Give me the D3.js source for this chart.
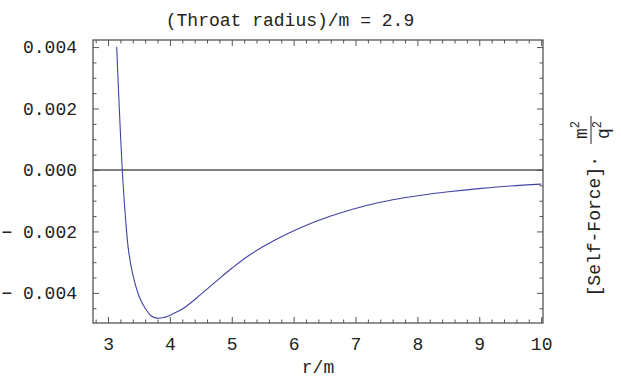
<!DOCTYPE html>
<html>
<head>
<meta charset="utf-8">
<script src="https://cdn.jsdelivr.net/npm/d3@7"></script>
<style>
  html, body { margin: 0; padding: 0; background: #fff; }
  svg { display: block; font-family: "Liberation Mono", "Courier New", monospace; }
</style>
</head>
<body>
<div id="chart"></div>
<script>
// values
const rValues = [3.14, 3.18, 3.23, 3.28, 3.33, 3.4, 3.5, 3.6, 3.7, 3.79, 3.9, 4.05, 4.22, 4.5, 4.76, 5.0, 5.3, 5.7, 6.11, 6.6, 7.19, 7.6, 8.06, 8.5, 9.03, 9.5, 10];
const forceValues = [0.0040, 0.0021, 0.0, -0.0015, -0.0026, -0.0034, -0.0041, -0.0045, -0.00475, -0.00482, -0.0048, -0.00468, -0.0045, -0.00405, -0.0036, -0.0032, -0.00275, -0.00228, -0.00188, -0.0015, -0.00115, -0.00097, -0.00082, -0.00071, -0.0006, -0.00052, -0.00046];

const xTicks = [3, 4, 5, 6, 7, 8, 9, 10];
const xTickLabels = ["3", "4", "5", "6", "7", "8", "9", "10"];
const yTicks = [0.004, 0.002, 0, -0.002, -0.004];
const yTickLabels = ["0.004", "0.002", "0.000", "\u2212 0.002", "\u2212 0.004"];

const titleText = "(Throat radius)/m = 2.9";
const xLabel = "r/m";

const width = 621, height = 377;
const margin = {top: 40, right: 78, bottom: 54, left: 93};
const innerW = width - margin.left - margin.right;
const innerH = height - margin.top - margin.bottom;

const svg = d3.select("#chart").append("svg")
    .attr("width", width)
    .attr("height", height);

const x = d3.scaleLinear().domain([2.757, 10.03]).range([0, innerW]);
const y = d3.scaleLinear().domain([-0.00498, 0.00423]).range([innerH, 0]);

const g = svg.append("g").attr("transform", `translate(${margin.left},${margin.top})`);

const frameColor = "#555";
const xMinor = d3.range(2.8, 10.05, 0.2).filter(v => Math.abs(v - Math.round(v)) > 0.01);
const yMinor = d3.range(-0.0045, 0.00401, 0.0005).filter(v => Math.abs(v / 0.002 - Math.round(v / 0.002)) > 0.01);

function styleAxis(sel) {
    sel.select(".domain").remove();
    sel.selectAll(".tick line").attr("stroke", frameColor);
    sel.selectAll(".tick text")
        .attr("fill", "#222")
        .attr("font-size", 18)
        .attr("font-family", "'Liberation Mono', 'Courier New', monospace");
}

// bottom / top
g.append("g").attr("transform", `translate(0,${innerH})`)
    .call(d3.axisBottom(x).tickValues(xTicks).tickSizeInner(-6).tickSizeOuter(0).tickPadding(14)
        .tickFormat((d, i) => xTickLabels[i]))
    .call(styleAxis);
g.append("g").attr("transform", `translate(0,${innerH})`)
    .call(d3.axisBottom(x).tickValues(xMinor).tickSizeInner(-3.5).tickSizeOuter(0).tickFormat(""))
    .call(styleAxis);
g.append("g")
    .call(d3.axisTop(x).tickValues(xTicks).tickSizeInner(-6).tickSizeOuter(0).tickFormat(""))
    .call(styleAxis);
g.append("g")
    .call(d3.axisTop(x).tickValues(xMinor).tickSizeInner(-3.5).tickSizeOuter(0).tickFormat(""))
    .call(styleAxis);

// left / right
g.append("g")
    .call(d3.axisLeft(y).tickValues(yTicks).tickSizeInner(-6).tickSizeOuter(0).tickPadding(16)
        .tickFormat((d, i) => yTickLabels[i]))
    .call(styleAxis);
g.append("g")
    .call(d3.axisLeft(y).tickValues(yMinor).tickSizeInner(-3.5).tickSizeOuter(0).tickFormat(""))
    .call(styleAxis);
g.append("g").attr("transform", `translate(${innerW},0)`)
    .call(d3.axisRight(y).tickValues(yTicks).tickSizeInner(-6).tickSizeOuter(0).tickFormat(""))
    .call(styleAxis);
g.append("g").attr("transform", `translate(${innerW},0)`)
    .call(d3.axisRight(y).tickValues(yMinor).tickSizeInner(-3.5).tickSizeOuter(0).tickFormat(""))
    .call(styleAxis);

// zero line
g.append("line")
    .attr("x1", 0).attr("x2", innerW)
    .attr("y1", y(0)).attr("y2", y(0))
    .attr("stroke", frameColor).attr("stroke-width", 1.3);

// curve
const line = d3.line()
    .x((d, i) => x(rValues[i]))
    .y(d => y(d))
    .curve(d3.curveCatmullRom.alpha(0.5));

g.append("path")
    .datum(forceValues)
    .attr("fill", "none")
    .attr("stroke", "#4242a4")
    .attr("stroke-width", 1.1)
    .attr("d", line);

// frame
g.append("rect")
    .attr("width", innerW).attr("height", innerH)
    .attr("fill", "none")
    .attr("stroke", frameColor)
    .attr("stroke-width", 1.3);

// title
svg.append("text")
    .attr("x", 290)
    .attr("y", 26)
    .attr("text-anchor", "middle")
    .attr("font-size", 18)
    .attr("fill", "#222")
    .text(titleText);

// x label
svg.append("text")
    .attr("x", margin.left + innerW / 2)
    .attr("y", 373)
    .attr("text-anchor", "middle")
    .attr("font-size", 18)
    .attr("fill", "#222")
    .text(xLabel);

// y label on right, rotated
const yl = svg.append("g").attr("transform", "translate(592,210) rotate(-90)");
yl.append("text")
    .attr("x", 54).attr("y", 8)
    .attr("text-anchor", "end")
    .attr("font-size", 18)
    .attr("fill", "#222")
    .text("[Self-Force]\u00b7");
yl.append("text")
    .attr("x", 80).attr("y", -5)
    .attr("text-anchor", "middle")
    .attr("font-size", 18)
    .attr("fill", "#222")
    .html("m<tspan dy='-8' font-size='12'>2</tspan>");
yl.append("line")
    .attr("x1", 66).attr("x2", 94)
    .attr("y1", -1).attr("y2", -1)
    .attr("stroke", "#222").attr("stroke-width", 1);
yl.append("text")
    .attr("x", 80).attr("y", 17)
    .attr("text-anchor", "middle")
    .attr("font-size", 18)
    .attr("fill", "#222")
    .html("q<tspan dy='-8' font-size='12'>2</tspan>");
</script>
</body>
</html>
